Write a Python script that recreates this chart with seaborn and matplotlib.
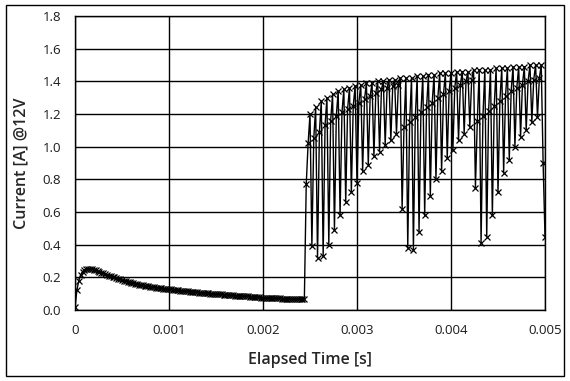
import matplotlib
matplotlib.use("Agg")
import matplotlib.pyplot as plt
from matplotlib.patches import Rectangle
import numpy as np
import pandas as pd
import seaborn as sns

# --- data (20 us sampling) ---
sample_dt = 0.00002

# coil current before the switching starts
startup_current = [
    0.02, 0.12, 0.18, 0.215, 0.235, 0.246, 0.251, 0.252, 0.252, 0.250,
    0.246, 0.242, 0.238, 0.233, 0.229, 0.224, 0.220, 0.215, 0.211, 0.207,
    0.203, 0.199, 0.195, 0.191, 0.187, 0.183, 0.180, 0.176, 0.173, 0.170,
    0.167, 0.164, 0.161, 0.158, 0.156, 0.153, 0.151, 0.149, 0.147, 0.145,
    0.143, 0.141, 0.139, 0.137, 0.136, 0.134, 0.133, 0.131, 0.130, 0.128,
    0.127, 0.126, 0.124, 0.123, 0.122, 0.121, 0.119, 0.118, 0.117, 0.116,
    0.114, 0.113, 0.112, 0.111, 0.110, 0.108, 0.107, 0.106, 0.105, 0.104,
    0.103, 0.102, 0.101, 0.100, 0.099, 0.098, 0.097, 0.096, 0.095, 0.094,
    0.093, 0.092, 0.091, 0.090, 0.089, 0.088, 0.087, 0.087, 0.086, 0.086,
    0.085, 0.084, 0.083, 0.082, 0.081, 0.080, 0.079, 0.078, 0.077, 0.076,
    0.075, 0.075, 0.074, 0.074, 0.073, 0.073, 0.072, 0.072, 0.071, 0.071,
    0.070, 0.070, 0.070, 0.069, 0.069, 0.069, 0.068, 0.068, 0.068, 0.067,
    0.067, 0.067, 0.067,
]

# jump when the driver switches on
turn_on = [0.77, 1.02, 1.20]

# PWM cycles: one sample at the dip, one on the recovery, one at the top
dips_1 = [0.39, 0.32, 0.33, 0.40, 0.49, 0.58, 0.66, 0.72, 0.78, 0.85, 0.89, 0.94, 0.97, 1.01, 1.04, 1.08]
mids_1 = [1.05, 1.09, 1.13, 1.16, 1.19, 1.21, 1.23, 1.25, 1.27, 1.29, 1.31, 1.33, 1.35, 1.36, 1.37, 1.38]
tops_1 = [1.24, 1.28, 1.30, 1.32, 1.34, 1.35, 1.36, 1.37, 1.38, 1.39, 1.39, 1.40, 1.40, 1.41, 1.41, 1.42]

dips_2 = [0.62, 0.38, 0.37, 0.48, 0.58, 0.70, 0.80, 0.85, 0.93, 0.98, 1.04, 1.08, 1.12]
mids_2 = [1.12, 1.15, 1.18, 1.21, 1.24, 1.27, 1.30, 1.32, 1.34, 1.36, 1.38, 1.40, 1.41]
tops_2 = [1.42, 1.42, 1.43, 1.43, 1.44, 1.44, 1.45, 1.45, 1.45, 1.46, 1.46, 1.46, 1.47]

dips_3 = [0.75, 0.41, 0.45, 0.58, 0.72, 0.84, 0.92, 1.00, 1.06, 1.10, 1.15, 1.18]
mids_3 = [1.16, 1.19, 1.22, 1.25, 1.28, 1.31, 1.34, 1.36, 1.38, 1.40, 1.41, 1.42]
tops_3 = [1.47, 1.47, 1.47, 1.48, 1.48, 1.48, 1.49, 1.49, 1.49, 1.50, 1.50, 1.50]

tail = [0.90, 0.45]

# put the samples back in time order
current = list(startup_current) + turn_on
for dips, mids, tops in [(dips_1, mids_1, tops_1), (dips_2, mids_2, tops_2), (dips_3, mids_3, tops_3)]:
    for d, m, t in zip(dips, mids, tops):
        current += [d, m, t]
current += tail

df = pd.DataFrame({'time': np.arange(len(current)) * sample_dt, 'current': current})

# --- plot ---
sns.set_style("white")
plt.rcParams['font.family'] = ['Open Sans', 'DejaVu Sans']

fig = plt.figure(figsize=(5.70, 3.81), dpi=100)
ax = fig.add_axes([75 / 570, 1 - 310 / 381, 470 / 570, 294 / 381])

sns.lineplot(data=df, x='time', y='current', ax=ax, color='black', linewidth=1.0,
             marker='x', markersize=5, markeredgewidth=0.9, markeredgecolor='black',
             estimator=None, sort=False)

ax.set_xlim(0, 0.005)
ax.set_ylim(0, 1.8)
ax.set_xticks([0, 0.001, 0.002, 0.003, 0.004, 0.005])
ax.set_xticklabels(['0', '0.001', '0.002', '0.003', '0.004', '0.005'])
ax.set_yticks(np.arange(0, 1.81, 0.2))
ax.set_yticklabels([f'{v:.1f}' for v in np.arange(0, 1.81, 0.2)])
ax.tick_params(axis='both', length=0, labelsize=9.5, colors='#1a1a1a')
ax.tick_params(axis='x', pad=10)
ax.tick_params(axis='y', pad=10)
ax.grid(True, color='black', linewidth=1.0)
for s in ax.spines.values():
    s.set_color('black')
    s.set_linewidth(1.0)

ax.set_xlabel('Elapsed Time [s]', fontsize=11.5, fontweight='semibold')
ax.set_ylabel('Current [A] @12V', fontsize=11.5, fontweight='semibold')
ax.xaxis.set_label_coords(0.5, -(352 - 310) / 294, transform=ax.transAxes)
ax.yaxis.set_label_coords(-(75 - 29) / 470, 0.5, transform=ax.transAxes)

# chart area border
fig.patches.append(Rectangle((5.5 / 570, 1 - 376 / 381), 558 / 570, 371 / 381,
                             transform=fig.transFigure, fill=False,
                             edgecolor='black', linewidth=1.0))

fig.savefig('out.png', dpi=100)
plt.close(fig)
